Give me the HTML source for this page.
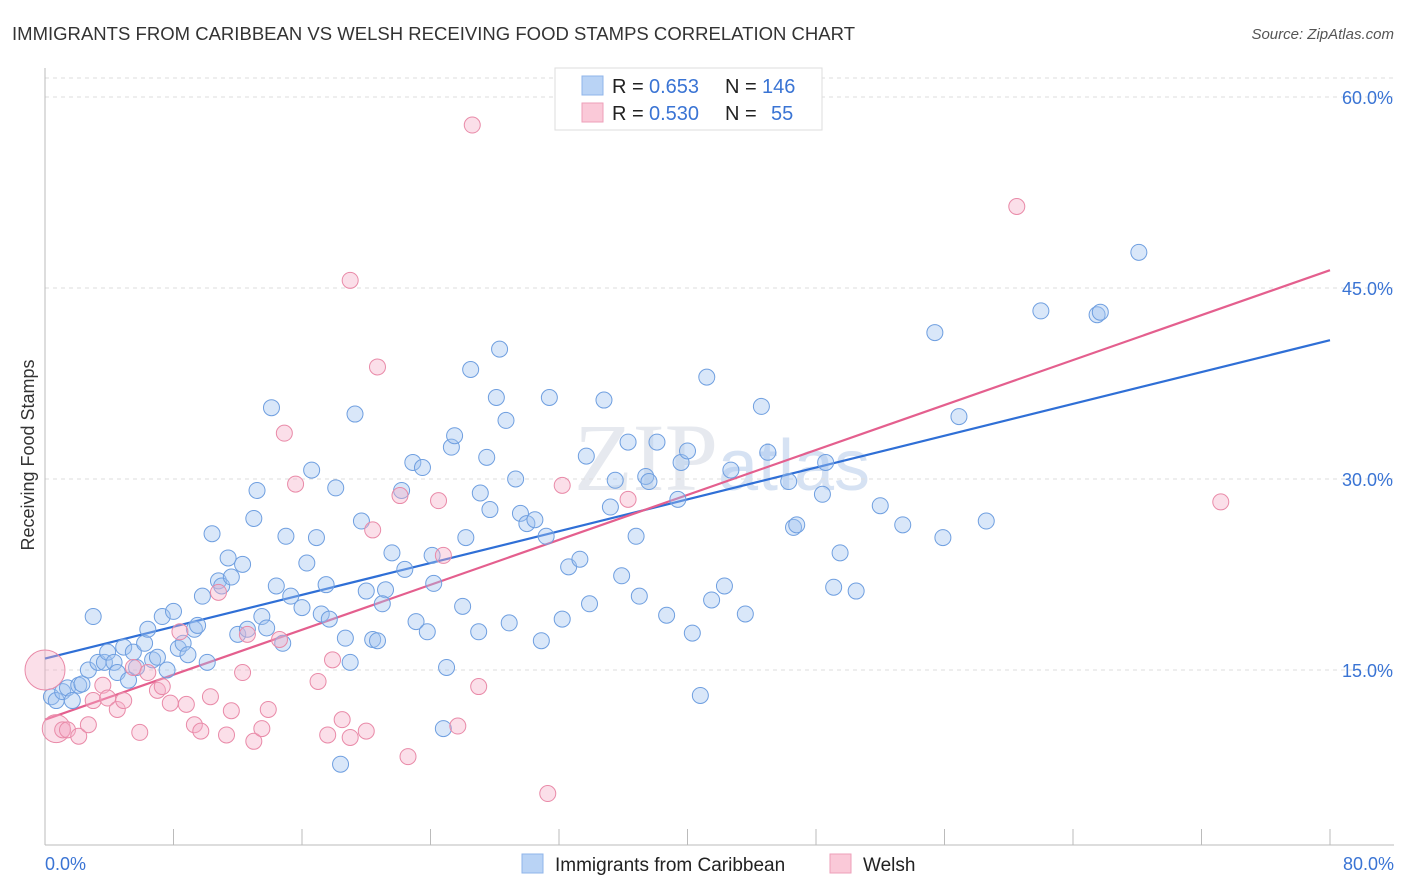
<!DOCTYPE html>
<html><head><meta charset="utf-8"><style>
body{margin:0;background:#fff;font-family:"Liberation Sans",sans-serif}
svg{display:block}
</style></head><body>
<svg id="chart" width="1406" height="892">
<text x="12" y="40" font-size="18.5" fill="#333" textLength="843">IMMIGRANTS FROM CARIBBEAN VS WELSH RECEIVING FOOD STAMPS CORRELATION CHART</text>
<text x="1394" y="39" font-size="15" fill="#555" text-anchor="end" font-style="italic">Source: ZipAtlas.com</text>
<text x="722" y="490" font-size="96" fill="#e6e9ef" text-anchor="middle" font-family="Liberation Serif">ZIP<tspan font-family="Liberation Sans" font-size="72" fill="#d6e2f3">atlas</tspan></text>
<text transform="translate(34,455) rotate(-90)" font-size="18" fill="#333" text-anchor="middle">Receiving Food Stamps</text>
<g id="grid"></g><g id="axes"></g><g id="lines"></g><g id="pts"></g>
<g>
<rect x="555" y="68" width="267" height="62" fill="#fff" stroke="#ddd"/>
<rect x="582" y="76" width="21" height="19" fill="#b9d3f5" stroke="#8fb4ea"/>
<rect x="582" y="103" width="21" height="19" fill="#fac9d8" stroke="#ee9fb9"/>
<text x="612" y="93" font-size="20" fill="#222">R =</text>
<text x="649" y="93" font-size="20" fill="#3a74d4">0.653</text>
<text x="725" y="93" font-size="20" fill="#222">N =</text>
<text x="762" y="93" font-size="20" fill="#3a74d4">146</text>
<text x="612" y="120" font-size="20" fill="#222">R =</text>
<text x="649" y="120" font-size="20" fill="#3a74d4">0.530</text>
<text x="725" y="120" font-size="20" fill="#222">N =</text>
<text x="771" y="120" font-size="20" fill="#3a74d4">55</text>
</g>
<g>
<rect x="522" y="854" width="21" height="19" fill="#b9d3f5" stroke="#8fb4ea"/>
<text x="555" y="871" font-size="19" fill="#222">Immigrants from Caribbean</text>
<rect x="830" y="854" width="21" height="19" fill="#fac9d8" stroke="#ee9fb9"/>
<text x="863" y="871" font-size="19" fill="#222">Welsh</text>
</g>
</svg>
<script>
const blueX=[0.4,0.7,1.1,1.4,1.7,2.1,2.3,2.7,3.0,3.3,3.7,3.9,4.3,4.5,4.9,5.2,5.5,5.7,6.2,6.4,6.7,7.0,7.3,7.6,8.0,8.3,8.6,8.9,9.3,9.5,9.8,10.1,10.4,10.8,11.0,11.4,11.6,12.3,12.0,12.6,13.0,13.2,13.5,13.8,14.1,14.4,14.8,15.0,15.3,16.0,16.3,16.6,16.9,17.2,17.5,17.7,18.1,18.7,19.0,18.4,19.3,19.7,20.0,20.4,20.7,21.2,21.0,21.6,22.2,22.4,22.9,23.1,23.5,23.8,24.1,24.2,25.0,24.8,25.3,25.5,26.0,26.2,26.5,27.0,27.1,27.5,27.7,28.1,28.3,28.7,28.9,29.3,29.6,30.0,30.5,30.9,31.2,31.4,32.2,32.6,33.3,33.7,33.9,34.8,35.2,35.5,35.9,36.3,36.8,37.0,37.4,37.6,38.1,38.7,39.4,39.6,40.0,40.3,40.8,41.2,41.5,42.3,42.7,43.6,44.6,45.0,46.3,46.6,46.8,48.4,48.6,49.5,49.1,50.5,52.0,53.4,55.4,55.9,56.9,58.6,62.0,65.5,65.7,68.1];
const blueY=[12.9,12.6,13.3,13.6,12.6,13.8,13.9,15.0,19.2,15.6,15.6,16.4,15.6,14.8,16.8,14.2,16.4,15.2,17.1,18.2,15.8,16.0,19.2,15.0,19.6,16.7,17.1,16.2,18.2,18.5,20.8,15.6,25.7,22.0,21.6,23.8,22.3,23.3,17.8,18.2,26.9,29.1,19.2,18.3,35.6,21.6,17.1,25.5,20.8,19.9,23.4,30.7,25.4,19.4,21.7,19.0,29.3,17.5,15.6,7.6,35.1,26.7,21.2,17.4,17.3,21.3,20.2,24.2,29.1,22.9,31.3,18.8,30.9,18.0,24.0,21.8,15.2,10.4,32.5,33.4,20.0,25.4,38.6,18.0,28.9,31.7,27.6,36.4,40.2,34.6,18.7,30.0,27.3,26.5,26.8,17.3,25.5,36.4,19.0,23.1,23.7,31.8,20.2,36.2,27.8,29.9,22.4,32.9,25.5,20.8,30.2,29.8,32.9,19.3,28.4,31.3,32.2,17.9,13.0,38.0,20.5,21.6,30.7,19.4,35.7,32.1,29.8,26.2,26.4,28.8,31.3,24.2,21.5,21.2,27.9,26.4,41.5,25.4,34.9,26.7,43.2,42.9,43.1,47.8];
const pinkX=[0,0.7,1.1,1.4,2.1,2.7,3.0,3.6,3.9,4.5,4.9,5.5,5.9,6.4,7.0,7.3,7.8,8.4,8.8,9.3,9.7,10.3,10.8,11.3,11.6,12.3,12.6,13.0,13.5,13.9,14.6,14.9,15.6,17.0,17.6,17.9,18.5,19.0,20.0,19.0,20.7,20.4,22.1,22.6,24.5,24.8,25.7,26.6,27.0,31.3,32.2,36.3,60.5,73.2];
const pinkY=[15.0,10.4,10.3,10.3,9.8,10.7,12.6,13.8,12.8,11.9,12.6,15.2,10.1,14.8,13.4,13.7,12.4,18.0,12.3,10.7,10.2,12.9,21.1,9.9,11.8,14.8,17.8,9.4,10.4,11.9,17.4,33.6,29.6,14.1,9.9,15.8,11.1,9.7,10.2,45.6,38.8,26.0,28.7,8.2,28.3,24.0,10.6,57.8,13.7,5.3,29.5,28.4,51.4,28.2];
const pinkR=[20,14,8,8,8,8,8,8,8,8,8,8,8,8,8,8,8,8,8,8,8,8,8,8,8,8,8,8,8,8,8,8,8,8,8,8,8,8,8,8,8,8,8,8,8,8,8,8,8,8,8,8,8,8];
const yTicks=[15,30,45,60];
const xTickVals=[0,8,16,24,32,40,48,56,64,72,80];
const blueLine=[15.9,40.9];
const pinkLine=[11.1,46.4];
const NS="http://www.w3.org/2000/svg";
const sx=v=>45+v/80*1285;
const sy=v=>861-v/15*191;
function mk(parent,tag,attrs){const e=document.createElementNS(NS,tag);for(const k in attrs)e.setAttribute(k,attrs[k]);document.getElementById(parent).appendChild(e);return e;}
mk('grid','line',{x1:45,x2:1394,y1:78,y2:78,stroke:'#ddd','stroke-dasharray':'4,4'});
yTicks.forEach(t=>{
 const l=mk('grid','line',{x1:45,x2:1394,y1:sy(t),y2:sy(t),stroke:'#ddd','stroke-dasharray':'4,4'});
 
 
 const tx=mk('axes','text',{x:1393,y:sy(t)+7,'font-size':18,fill:'#3a74d4','text-anchor':'end'});
 tx.textContent=t.toFixed(1)+'%';
 
 
});
mk('axes','line',{x1:45,x2:45,y1:68,y2:845,stroke:'#bbb'});
mk('axes','line',{x1:45,x2:1394,y1:845,y2:845,stroke:'#bbb'});
xTickVals.forEach(t=>{
 const l=mk('axes','line',{x1:sx(t),x2:sx(t),y1:829,y2:845,stroke:'#bbb'});
 
 
});
[[0,'start'],[80,'end']].forEach(([t,a])=>{
 const tx=mk('axes','text',{x:t==0?45:1394,y:870,'font-size':18,fill:'#3a74d4','text-anchor':a});
 tx.textContent=t.toFixed(1)+'%';
 
 
});
blueX.forEach((x,i)=>{
 const c=mk('pts','circle',{cx:sx(x),cy:sy(blueY[i]),r:8,fill:'rgba(160,195,240,0.4)',stroke:'#6f9fe0','stroke-width':1});
 
 
});
pinkX.forEach((x,i)=>{
 const c=mk('pts','circle',{cx:sx(x),cy:sy(pinkY[i]),r:pinkR[i],fill:'rgba(245,175,200,0.4)',stroke:'#e98aa8','stroke-width':1});
 
 
});
const bl=mk('lines','line',{x1:sx(0),y1:sy(blueLine[0]),x2:sx(80),y2:sy(blueLine[1]),stroke:'#2f6fd6','stroke-width':2.2});


const pl=mk('lines','line',{x1:sx(0),y1:sy(pinkLine[0]),x2:sx(80),y2:sy(pinkLine[1]),stroke:'#e45f8e','stroke-width':2.2});


</script>
</body></html>
